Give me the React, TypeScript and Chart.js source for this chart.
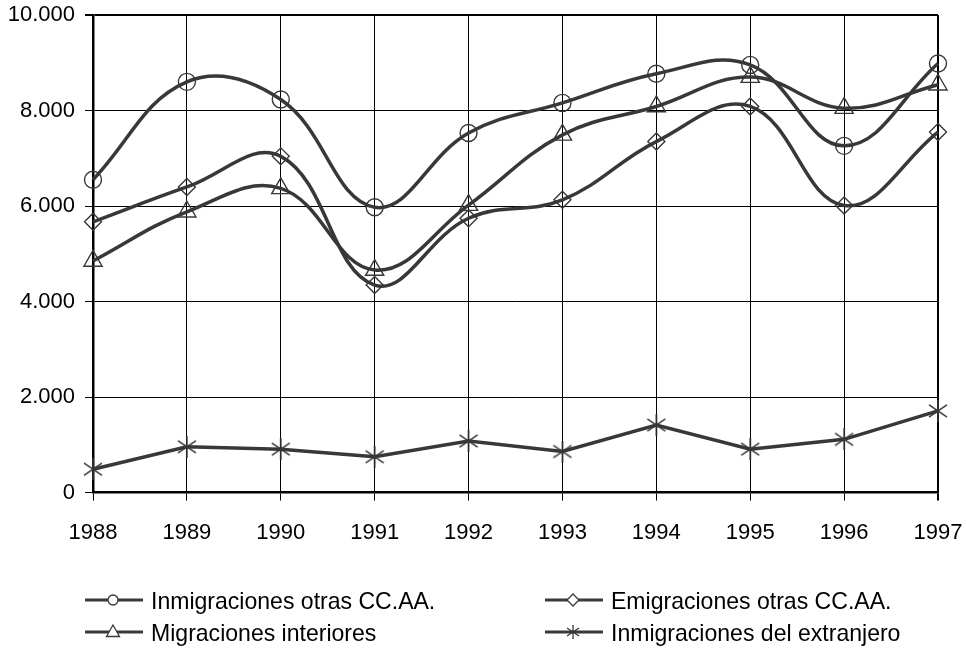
import React, { useEffect, useRef } from "react";
import { Chart, registerables } from "chart.js";

Chart.register(...registerables);

const years = ["1988", "1989", "1990", "1991", "1992", "1993", "1994", "1995", "1996", "1997"];
const inmigracionesOtras = [6550, 8600, 8230, 5975, 7530, 8160, 8770, 8955, 7260, 8985];
const emigracionesOtras = [5670, 6400, 7040, 4345, 5745, 6130, 7350, 8085, 6010, 7550];
const migracionesInteriores = [4850, 5880, 6370, 4660, 6020, 7490, 8085, 8700, 8050, 8540];
const inmigracionesExtranjero = [490, 960, 910, 750, 1080, 860, 1415, 910, 1115, 1710];
const seriesNames = [
  "Inmigraciones otras CC.AA.",
  "Emigraciones otras CC.AA.",
  "Migraciones interiores",
  "Inmigraciones del extranjero",
];
const yTicks = [0, 2000, 4000, 6000, 8000, 10000];

const LINE = "#383838";
const FONT = '"Liberation Sans", Arial, Helvetica, sans-serif';

function fmt(v: number): string {
  return String(Math.round(v)).replace(/\B(?=(\d{3})+(?!\d))/g, ".");
}

function makeStar(w: number, h: number, lw: number): HTMLCanvasElement {
  const c = document.createElement("canvas");
  c.width = w;
  c.height = h;
  const ctx = c.getContext("2d")!;
  ctx.strokeStyle = LINE;
  ctx.lineWidth = lw;
  ctx.beginPath();
  ctx.moveTo(w / 2, 0);
  ctx.lineTo(w / 2, h);
  ctx.moveTo(1, h * 0.22);
  ctx.lineTo(w - 1, h * 0.78);
  ctx.moveTo(1, h * 0.78);
  ctx.lineTo(w - 1, h * 0.22);
  ctx.stroke();
  return c;
}

function drawMarker(ctx: CanvasRenderingContext2D, kind: string, x: number, y: number) {
  ctx.save();
  ctx.strokeStyle = LINE;
  ctx.lineWidth = 1.3;
  ctx.beginPath();
  if (kind === "circle") {
    ctx.arc(x, y, 5, 0, Math.PI * 2);
    ctx.fillStyle = "#fff";
    ctx.fill();
  } else if (kind === "diamond") {
    ctx.moveTo(x - 6, y);
    ctx.lineTo(x, y - 6);
    ctx.lineTo(x + 6, y);
    ctx.lineTo(x, y + 6);
    ctx.closePath();
    ctx.fillStyle = "#fff";
    ctx.fill();
  } else if (kind === "triangle") {
    ctx.moveTo(x, y - 7);
    ctx.lineTo(x + 6.5, y + 4.5);
    ctx.lineTo(x - 6.5, y + 4.5);
    ctx.closePath();
    ctx.fillStyle = "#fff";
    ctx.fill();
  } else {
    ctx.moveTo(x, y - 7);
    ctx.lineTo(x, y + 7);
    ctx.moveTo(x - 6, y - 4);
    ctx.lineTo(x + 6, y + 4);
    ctx.moveTo(x - 6, y + 4);
    ctx.lineTo(x + 6, y - 4);
  }
  ctx.stroke();
  ctx.restore();
}

const legendKinds = ["circle", "diamond", "triangle", "star"];
const legendCols = [85, 545];
const legendRows = [600, 632];

const customLegend = {
  id: "customLegend",
  afterDraw(chart: any) {
    const ctx = chart.ctx as CanvasRenderingContext2D;
    for (let i = 0; i < seriesNames.length; i++) {
      const col = i % 2;
      const row = Math.floor(i / 2);
      const x0 = legendCols[col];
      const y = legendRows[row];
      ctx.save();
      ctx.strokeStyle = LINE;
      ctx.lineWidth = 3;
      ctx.beginPath();
      ctx.moveTo(x0, y);
      ctx.lineTo(x0 + 58, y);
      ctx.stroke();
      ctx.restore();
      drawMarker(ctx, legendKinds[i], x0 + 28, y);
      ctx.save();
      ctx.fillStyle = "#000";
      ctx.font = `24px ${FONT}`;
      ctx.textBaseline = "middle";
      ctx.textAlign = "left";
      ctx.translate(x0 + 66, y + 2);
      ctx.scale(0.96, 1);
      ctx.fillText(seriesNames[i], 0, 0);
      ctx.restore();
    }
  },
};

export default function App() {
  const ref = useRef<HTMLCanvasElement | null>(null);
  useEffect(() => {
    if (!ref.current) return;
    const star = makeStar(20, 22, 1.5);
    const base = {
      borderColor: LINE,
      borderWidth: 3.5,
      pointBorderColor: LINE,
      pointBackgroundColor: "rgba(0,0,0,0)",
      pointBorderWidth: 1.4,
      fill: false,
    };
    const chart = new Chart(ref.current, {
      type: "line",
      data: {
        labels: years,
        datasets: [
          { ...base, label: seriesNames[0], data: inmigracionesOtras, tension: 0.4, pointStyle: "circle", pointRadius: 8.5 },
          { ...base, label: seriesNames[1], data: emigracionesOtras, tension: 0.4, pointStyle: "rectRot", pointRadius: 8.5 },
          { ...base, label: seriesNames[2], data: migracionesInteriores, tension: 0.4, pointStyle: "triangle", pointRadius: 10.5 },
          { ...base, label: seriesNames[3], data: inmigracionesExtranjero, tension: 0, pointStyle: star as any, pointRadius: 10 },
        ],
      },
      options: {
        responsive: false,
        animation: false,
        events: [],
        layout: { padding: { top: 15, right: 28, left: 8, bottom: 88 } },
        plugins: {
          legend: { display: false },
          tooltip: { enabled: false },
          title: { display: false },
        },
        scales: {
          x: {
            type: "category",
            offset: false,
            afterFit: (axis: any) => {
              axis.paddingLeft = 0;
              axis.paddingRight = 0;
            },
            grid: {
              color: "#000",
              lineWidth: (c: any) => (c.index === years.length - 1 ? 2 : 1),
              tickLength: 8,
              offset: false,
            },
            border: { color: "#000", width: 2.5 },
            ticks: {
              color: "#000",
              font: { family: FONT, size: 22 },
              padding: 19,
              maxRotation: 0,
              autoSkip: false,
            },
          },
          y: {
            min: 0,
            max: 10000,
            afterBuildTicks: (axis: any) => {
              axis.ticks = yTicks.map((v) => ({ value: v }));
            },
            afterFit: (axis: any) => {
              axis.width = 85;
              axis.paddingTop = 0;
              axis.paddingBottom = 0;
            },
            grid: {
              color: "#000",
              lineWidth: (c: any) => (c.tick && c.tick.value === 10000 ? 2 : 1),
              tickLength: 8,
            },
            border: { color: "#000", width: 2.5 },
            ticks: {
              color: "#000",
              font: { family: FONT, size: 22 },
              padding: 10,
              callback: (v: any) => fmt(Number(v)),
            },
          },
        },
      },
      plugins: [customLegend],
    });
    return () => chart.destroy();
  }, []);
  return (
    <div style={{ position: "absolute", left: 0, top: 0, width: 966, height: 653, background: "#fff" }}>
      <canvas ref={ref} width={966} height={653} style={{ display: "block" }} />
    </div>
  );
}
